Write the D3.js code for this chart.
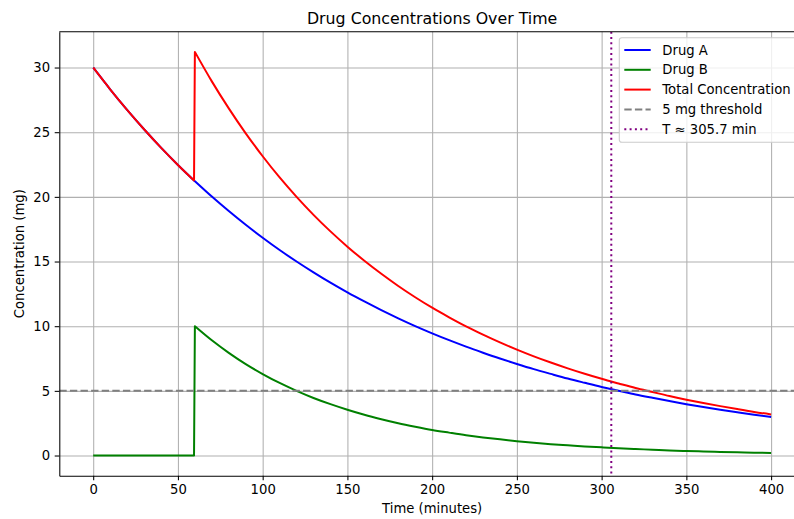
<!DOCTYPE html>
<html>
<head>
<meta charset="utf-8">
<script src="https://cdn.jsdelivr.net/npm/d3@7"></script>
<style>
  html, body { margin: 0; padding: 0; background: #fff; }
  svg { display: block; font-family: "DejaVu Sans", sans-serif; }
</style>
</head>
<body>
<svg id="chart" width="794" height="519"></svg>
<script>
// time samples (minutes); second dose is given at 60 min
const times = [0, 10, 20, 30, 40, 50, 59.5, 60, 70, 80, 90, 100, 110, 120, 130, 140, 150, 160, 170, 180, 190,
  200, 210, 220, 230, 240, 250, 260, 270, 280, 290, 300, 310, 320, 330, 340, 350, 360, 370, 380, 390, 400];

const drugA = [30, 28.32, 26.73, 25.23, 23.81, 22.47, 21.27, 21.21, 20.02, 18.90, 17.84, 16.84, 15.89, 15.00, 14.16,
  13.36, 12.61, 11.91, 11.24, 10.61, 10.01, 9.45, 8.92, 8.42, 7.95, 7.50, 7.08, 6.68, 6.31, 5.95, 5.62, 5.30,
  5.01, 4.72, 4.46, 4.21, 3.97, 3.75, 3.54, 3.34, 3.15, 2.98];

const drugB = [0, 0, 0, 0, 0, 0, 0, 10, 8.91, 7.94, 7.07, 6.30, 5.61, 5.00, 4.45, 3.97, 3.54, 3.15, 2.81, 2.50,
  2.23, 1.98, 1.77, 1.57, 1.40, 1.25, 1.11, 0.99, 0.88, 0.79, 0.70, 0.63, 0.56, 0.50, 0.45, 0.39, 0.35, 0.31,
  0.28, 0.25, 0.22, 0.20];

const total = [30, 28.32, 26.73, 25.23, 23.81, 22.47, 21.27, 31.21, 28.93, 26.84, 24.91, 23.14, 21.50, 20.00, 18.61,
  17.33, 16.15, 15.06, 14.05, 13.11, 12.24, 11.43, 10.69, 9.99, 9.35, 8.75, 8.19, 7.67, 7.19, 6.74, 6.32, 5.93,
  5.57, 5.22, 4.91, 4.60, 4.32, 4.06, 3.82, 3.59, 3.37, 3.18];

const doseIndex = 7;
const threshold = 5;
const crossTime = 305.7;

const xTicks = [0, 50, 100, 150, 200, 250, 300, 350, 400];
const yTicks = [0, 5, 10, 15, 20, 25, 30];

const series = [
  { name: 'Drug A', values: drugA, color: '#0000ff' },
  { name: 'Drug B', values: drugB, color: '#008000' },
  { name: 'Total Concentration', values: total, color: '#ff0000' }
];

const plot = { left: 59.3, top: 31.7, right: 805, bottom: 475.7 };
const fontSize = 13.2;
const lw = 2;

const svg = d3.select('#chart');

const x = d3.scaleLinear().domain([-20, 420]).range([plot.left, plot.right]);
const yMax = d3.max(total);
const yPad = yMax * 0.05;
const y = d3.scaleLinear().domain([-yPad, yMax + yPad]).range([plot.bottom, plot.top]);

svg.append('defs').append('clipPath').attr('id', 'clip')
  .append('rect')
  .attr('x', plot.left).attr('y', plot.top)
  .attr('width', plot.right - plot.left).attr('height', plot.bottom - plot.top);

// grid
const grid = svg.append('g').attr('class', 'grid');
grid.append('g')
  .attr('transform', `translate(0,${plot.top})`)
  .call(d3.axisBottom(x).tickValues(xTicks).tickSize(plot.bottom - plot.top).tickFormat(''))
  .call(g => g.select('.domain').remove());
grid.append('g')
  .attr('transform', `translate(${plot.left},0)`)
  .call(d3.axisRight(y).tickValues(yTicks).tickSize(plot.right - plot.left).tickFormat(''))
  .call(g => g.select('.domain').remove());
grid.selectAll('line').attr('stroke', '#b0b0b0').attr('stroke-width', 1.06);

// series: smooth on each side of the dose, straight jump in between
const line = d3.line()
  .x(d => x(d[0]))
  .y(d => y(d[1]))
  .curve(d3.curveMonotoneX);

function seriesPath(values) {
  const pts = values.map((v, i) => [times[i], v]);
  const before = pts.slice(0, doseIndex);
  const after = pts.slice(doseIndex);
  return line(before) + line(after).replace(/^M/, 'L');
}

const marks = svg.append('g').attr('clip-path', 'url(#clip)');
series.forEach(s => {
  marks.append('path')
    .attr('fill', 'none')
    .attr('stroke', s.color)
    .attr('stroke-width', lw)
    .attr('stroke-linejoin', 'round')
    .attr('d', seriesPath(s.values));
});

marks.append('line')
  .attr('x1', plot.left).attr('x2', plot.right)
  .attr('y1', y(threshold)).attr('y2', y(threshold))
  .attr('stroke', '#808080').attr('stroke-width', lw)
  .attr('stroke-dasharray', '7.4,3.2');

marks.append('line')
  .attr('x1', x(crossTime)).attr('x2', x(crossTime))
  .attr('y1', plot.top).attr('y2', plot.bottom)
  .attr('stroke', '#800080').attr('stroke-width', lw)
  .attr('stroke-dasharray', '2,3.3');

// axes
const xAxis = svg.append('g')
  .attr('transform', `translate(0,${plot.bottom})`)
  .call(d3.axisBottom(x).tickValues(xTicks).tickSize(4.6).tickPadding(4.6).tickSizeOuter(0));
const yAxis = svg.append('g')
  .attr('transform', `translate(${plot.left},0)`)
  .call(d3.axisLeft(y).tickValues(yTicks).tickSize(4.6).tickPadding(4.6).tickSizeOuter(0));

[xAxis, yAxis].forEach(a => {
  a.attr('font-family', '"DejaVu Sans", sans-serif').attr('font-size', fontSize);
  a.selectAll('line').attr('stroke', '#000').attr('stroke-width', 1.06);
  a.selectAll('text').attr('fill', '#000');
  a.select('.domain').attr('stroke', '#000').attr('stroke-width', 1.06);
});
xAxis.selectAll('text').attr('dy', '0.72em');

// top spine
svg.append('line')
  .attr('x1', plot.left).attr('x2', plot.right)
  .attr('y1', plot.top).attr('y2', plot.top)
  .attr('stroke', '#000').attr('stroke-width', 1.06);

// title and labels
svg.append('text')
  .attr('x', (plot.left + plot.right) / 2).attr('y', 23.5)
  .attr('text-anchor', 'middle').attr('font-size', 15.8)
  .text('Drug Concentrations Over Time');

svg.append('text')
  .attr('x', (plot.left + plot.right) / 2).attr('y', 513)
  .attr('text-anchor', 'middle').attr('font-size', fontSize)
  .text('Time (minutes)');

svg.append('text')
  .attr('transform', `translate(24,${(plot.top + plot.bottom) / 2}) rotate(-90)`)
  .attr('text-anchor', 'middle').attr('font-size', fontSize)
  .text('Concentration (mg)');

// legend
const legendItems = [
  { name: 'Drug A', color: '#0000ff', dash: null },
  { name: 'Drug B', color: '#008000', dash: null },
  { name: 'Total Concentration', color: '#ff0000', dash: null },
  { name: '5 mg threshold', color: '#808080', dash: '7.4,3.2' },
  { name: `T \u2248 ${crossTime} min`, color: '#800080', dash: '2,3.3' }
];

const legend = svg.append('g').attr('transform', 'translate(619.3,37.7)');
legend.append('rect')
  .attr('width', 179).attr('height', 104.6)
  .attr('rx', 2.6).attr('ry', 2.6)
  .attr('fill', '#fff').attr('fill-opacity', 0.8)
  .attr('stroke', '#cccccc').attr('stroke-width', 1.06);

const rows = legend.selectAll('g.row')
  .data(legendItems)
  .join('g')
  .attr('class', 'row')
  .attr('transform', (d, i) => `translate(0,${12.3 + i * 19.8})`);

rows.append('line')
  .attr('x1', 5).attr('x2', 31.4)
  .attr('stroke', d => d.color)
  .attr('stroke-width', lw)
  .attr('stroke-dasharray', d => d.dash);

rows.append('text')
  .attr('x', 43).attr('y', 4.6)
  .attr('font-size', fontSize)
  .attr('fill', '#000')
  .text(d => d.name);
</script>
</body>
</html>
